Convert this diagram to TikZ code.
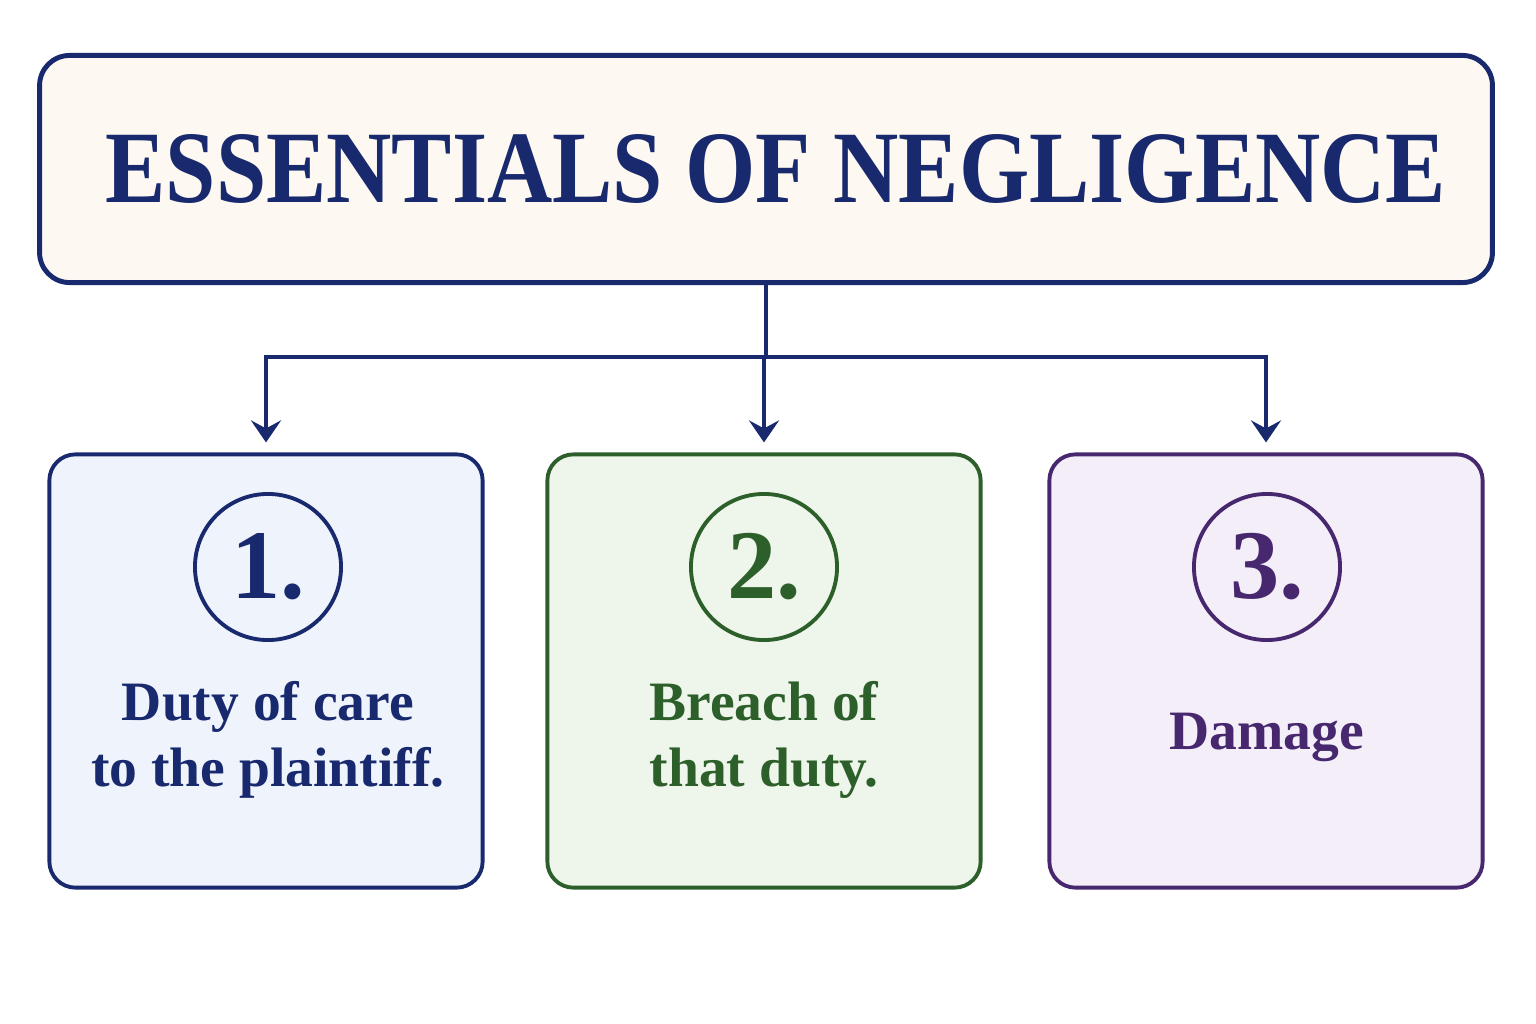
\documentclass[tikz,border=0pt]{standalone}
\usepackage{fontspec}
\setmainfont{Liberation Serif}
\newfontfamily\headfont{Liberation Serif}[FakeStretch=0.88]
\usepackage{tikz}
\usetikzlibrary{arrows.meta}
\definecolor{navy}{HTML}{18296E}
\definecolor{leaf}{HTML}{2C5F2A}
\definecolor{plum}{HTML}{47286F}
\definecolor{cream}{HTML}{FDF8F1}
\definecolor{paleblue}{HTML}{EEF3FC}
\definecolor{palegreen}{HTML}{EEF5EA}
\definecolor{palepurple}{HTML}{F3EEF8}

\begin{document}
\begin{tikzpicture}[x=0.01cm,y=-0.01cm,
  card/.style={draw=#1,line width=1.1pt,rounded corners=0.26cm,minimum width=4.33cm,minimum height=4.33cm},
  numring/.style={circle,draw=#1,text=#1,line width=1.1pt,minimum size=1.46cm,inner sep=0pt,font=\bfseries\fontsize{28}{30}\selectfont},
  cardtext/.style={text=#1,align=center,font=\bfseries\fontsize{15.8}{18.7}\selectfont},
  link/.style={draw=navy,line width=1.1pt}]
\useasboundingbox (0,0) rectangle (1536,1024);
\node[draw=navy,fill=cream,line width=1.4pt,rounded corners=0.3cm,minimum width=14.52cm,minimum height=2.27cm,
  text=navy,font=\headfont\bfseries\fontsize{29.2}{32}\selectfont] (title) at (766,169) {\hspace{0.2cm}ESSENTIALS OF NEGLIGENCE};
% the three essentials
\node[card=navy,fill=paleblue] (one) at (266,671) {};
\node[card=leaf,fill=palegreen] (two) at (764,671) {};
\node[card=plum,fill=palepurple] (three) at (1266,671) {};
\node[numring=navy] (n1) at (268,567) {1.};
\node[numring=leaf] (n2) at (764,567) {2.};
\node[numring=plum] (n3) at (1267,567) {3.};
\node[cardtext=navy] (t1) at (268,740) {Duty of care\\to the plaintiff.};
\node[cardtext=leaf] (t2) at (764,740) {Breach of\\that duty.};
\node[cardtext=plum] (t3) at (1267,737) {Damage};
% connectors
\coordinate (hub) at (766,357);
\draw[link] (title.south) -- (hub);
\foreach \b in {one,two,three}
{ \draw[link,-{Stealth[length=0.22cm,width=0.3cm,inset=0.08cm]},shorten >=0.1cm] (hub) -| (\b.north);
}
\end{tikzpicture}
\end{document}
